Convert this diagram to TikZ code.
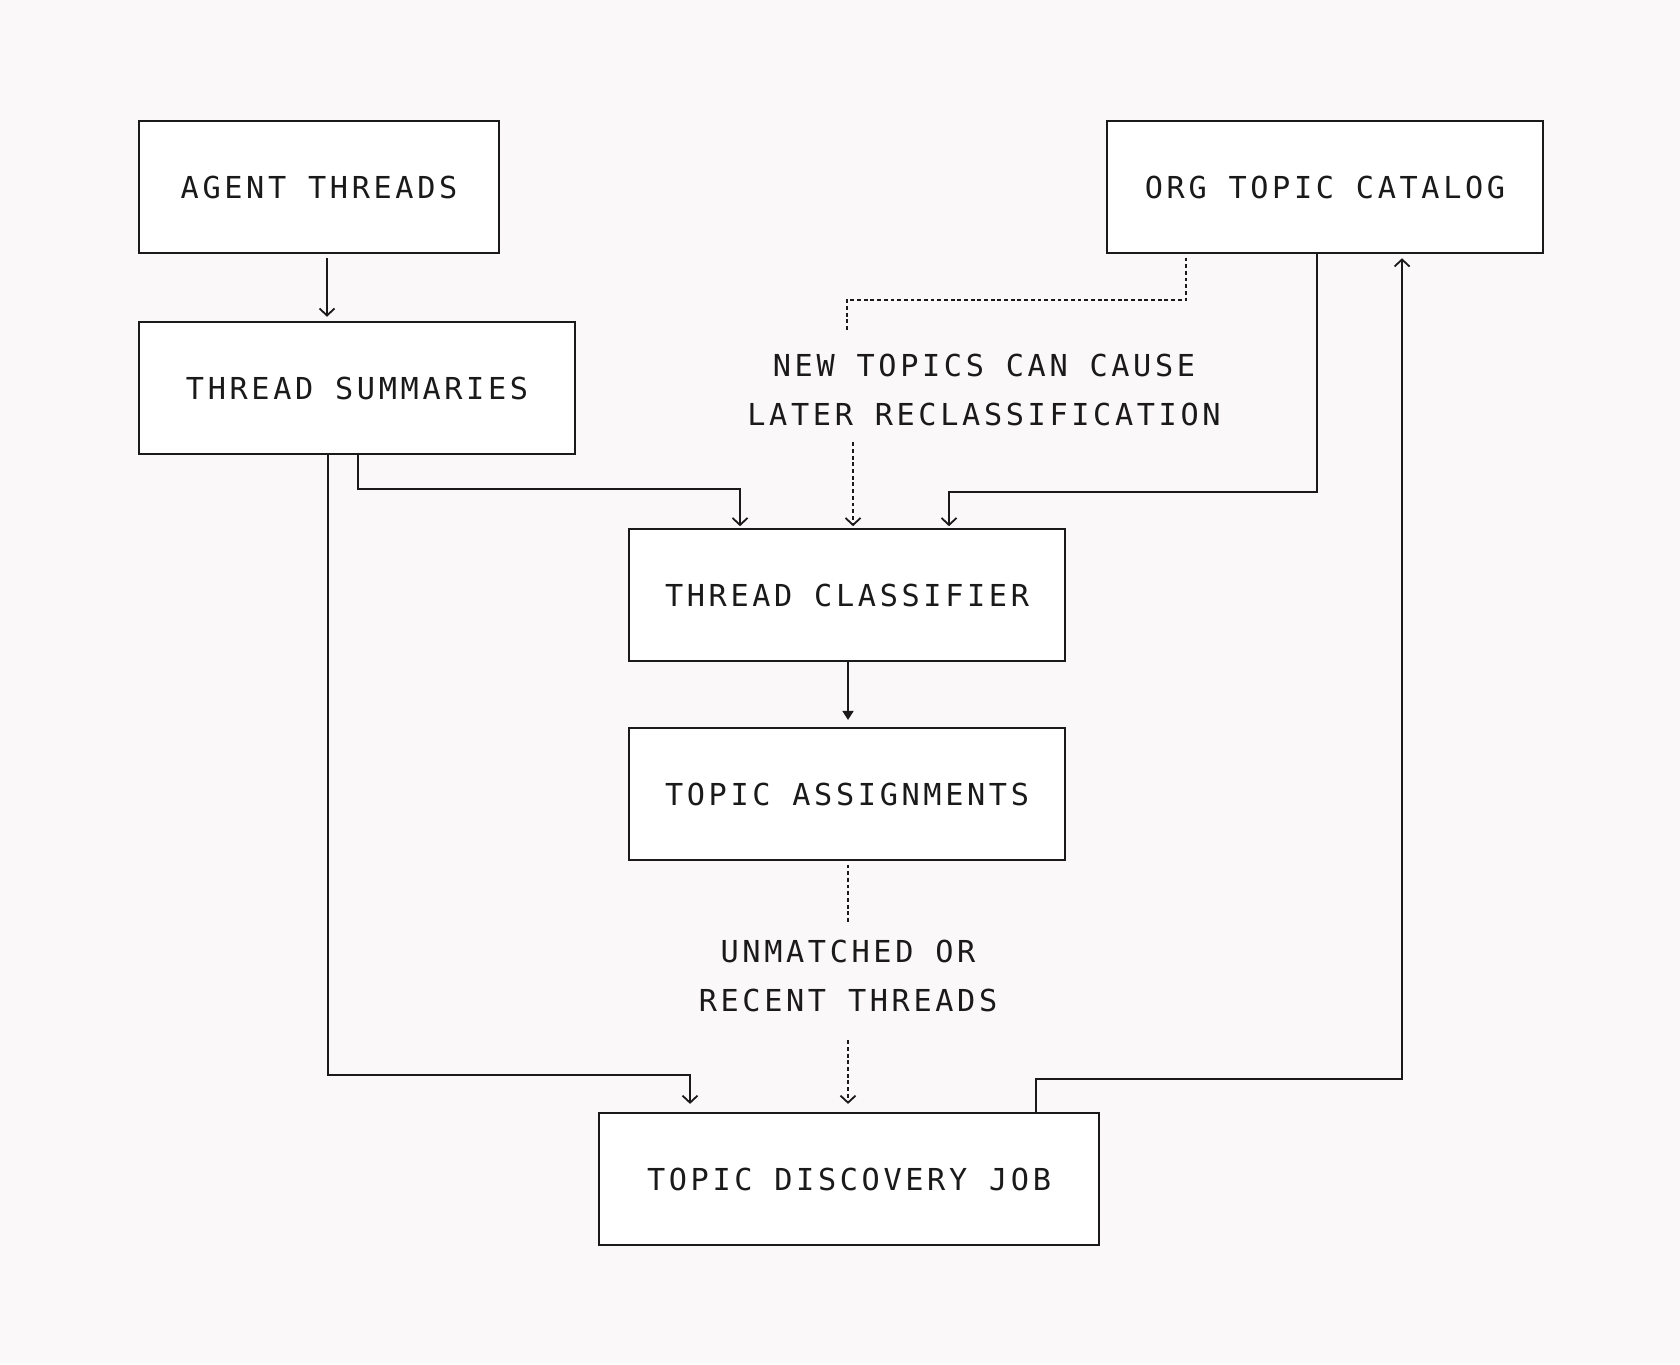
\documentclass[tikz,border=0pt]{standalone}
\usepackage{fontspec}
\usetikzlibrary{arrows.meta}

\newfontfamily\diafont[LetterSpace = 12]{DejaVu Sans Mono}

\definecolor{paper}{RGB}{250,248,249}
\definecolor{ink}{RGB}{26,26,26}

\tikzset{
	block/.style = {draw = ink, fill = white, line width = 0.02cm, minimum height = 1.32cm, inner sep = 0pt, text = ink, font = \diafont\fontsize{8.6}{13.7}\selectfont},
	remark/.style = {text = ink, align = center, inner sep = 2pt, font = \diafont\fontsize{8.6}{13.7}\selectfont},
	link/.style = {ink, line width = 0.018cm, shorten > = 1.2pt},
	hint/.style = {link, dash pattern = on 1.1pt off 0.8pt, shorten < = 1pt},
	solid tip/.style = {-{Triangle[length = 0.09cm, width = 0.11cm]}}
}

\begin{document}
\begin{tikzpicture}[x = 0.01cm, y = -0.01cm, > = {Straight Barb[length = 0.07cm, width = 0.15cm]}]

	% Page
	
	\fill [paper] (0, 0) rectangle (1680, 1364);
	\useasboundingbox (0, 0) rectangle (1680, 1364);
	
	% Boxes
	
	\node [block, minimum width = 3.6cm] (agent) at (319, 187) {AGENT THREADS};
	\node [block, minimum width = 4.36cm] (summ) at (357, 388) {THREAD SUMMARIES};
	\node [block, minimum width = 4.36cm] (catalog) at (1325, 187) {ORG TOPIC CATALOG};
	\node [block, minimum width = 4.36cm] (clf) at (847, 595) {THREAD CLASSIFIER};
	\node [block, minimum width = 4.36cm] (assign) at (847, 794) {TOPIC ASSIGNMENTS};
	\node [block, minimum width = 5cm] (disc) at (849, 1179) {TOPIC DISCOVERY JOB};
	
	% Notes
	
	\node [remark] (recls) at (984, 390) {NEW TOPICS CAN CAUSE\\LATER RECLASSIFICATION};
	\node [remark] (unmatched) at (848, 976) {UNMATCHED OR\\RECENT THREADS};
	
	% Threads into the classifier
	
	\draw [link, ->, shorten < = 1.2pt] (327, 0 |- agent.south) -- (327, 0 |- summ.north);
	\draw [link, ->, shorten > = 0.5pt] (358, 0 |- summ.south) |- (740, 489) -- (740, 0 |- clf.north);
	\draw [link, ->, shorten > = 0.5pt] (1317, 0 |- catalog.south) |- (949, 492) -- (949, 0 |- clf.north);
	\draw [link, solid tip, shorten > = 2pt] (848, 0 |- clf.south) -- (848, 0 |- assign.north);
	
	% Reclassification hint
	
	\draw [hint, shorten > = 4.8pt] (1186, 0 |- catalog.south) |- (847, 300) -- (847, 0 |- recls.north);
	\draw [hint, ->, shorten < = 2.6pt, shorten > = 0.5pt] (853, 0 |- recls.south) -- (853, 0 |- clf.north);
	
	% Discovery loop
	
	\draw [hint, shorten > = 2.9pt] (848, 0 |- assign.south) -- (848, 0 |- unmatched.north);
	\draw [hint, ->, shorten < = 6pt, shorten > = 2.3pt] (848, 0 |- unmatched.south) -- (848, 0 |- disc.north);
	\draw [link, ->, shorten > = 2.3pt] (328, 0 |- summ.south) |- (690, 1075) -- (690, 0 |- disc.north);
	\draw [link, ->] (1036, 0 |- disc.north) |- (1402, 1079) -- (1402, 0 |- catalog.south);
	
\end{tikzpicture}
\end{document}
